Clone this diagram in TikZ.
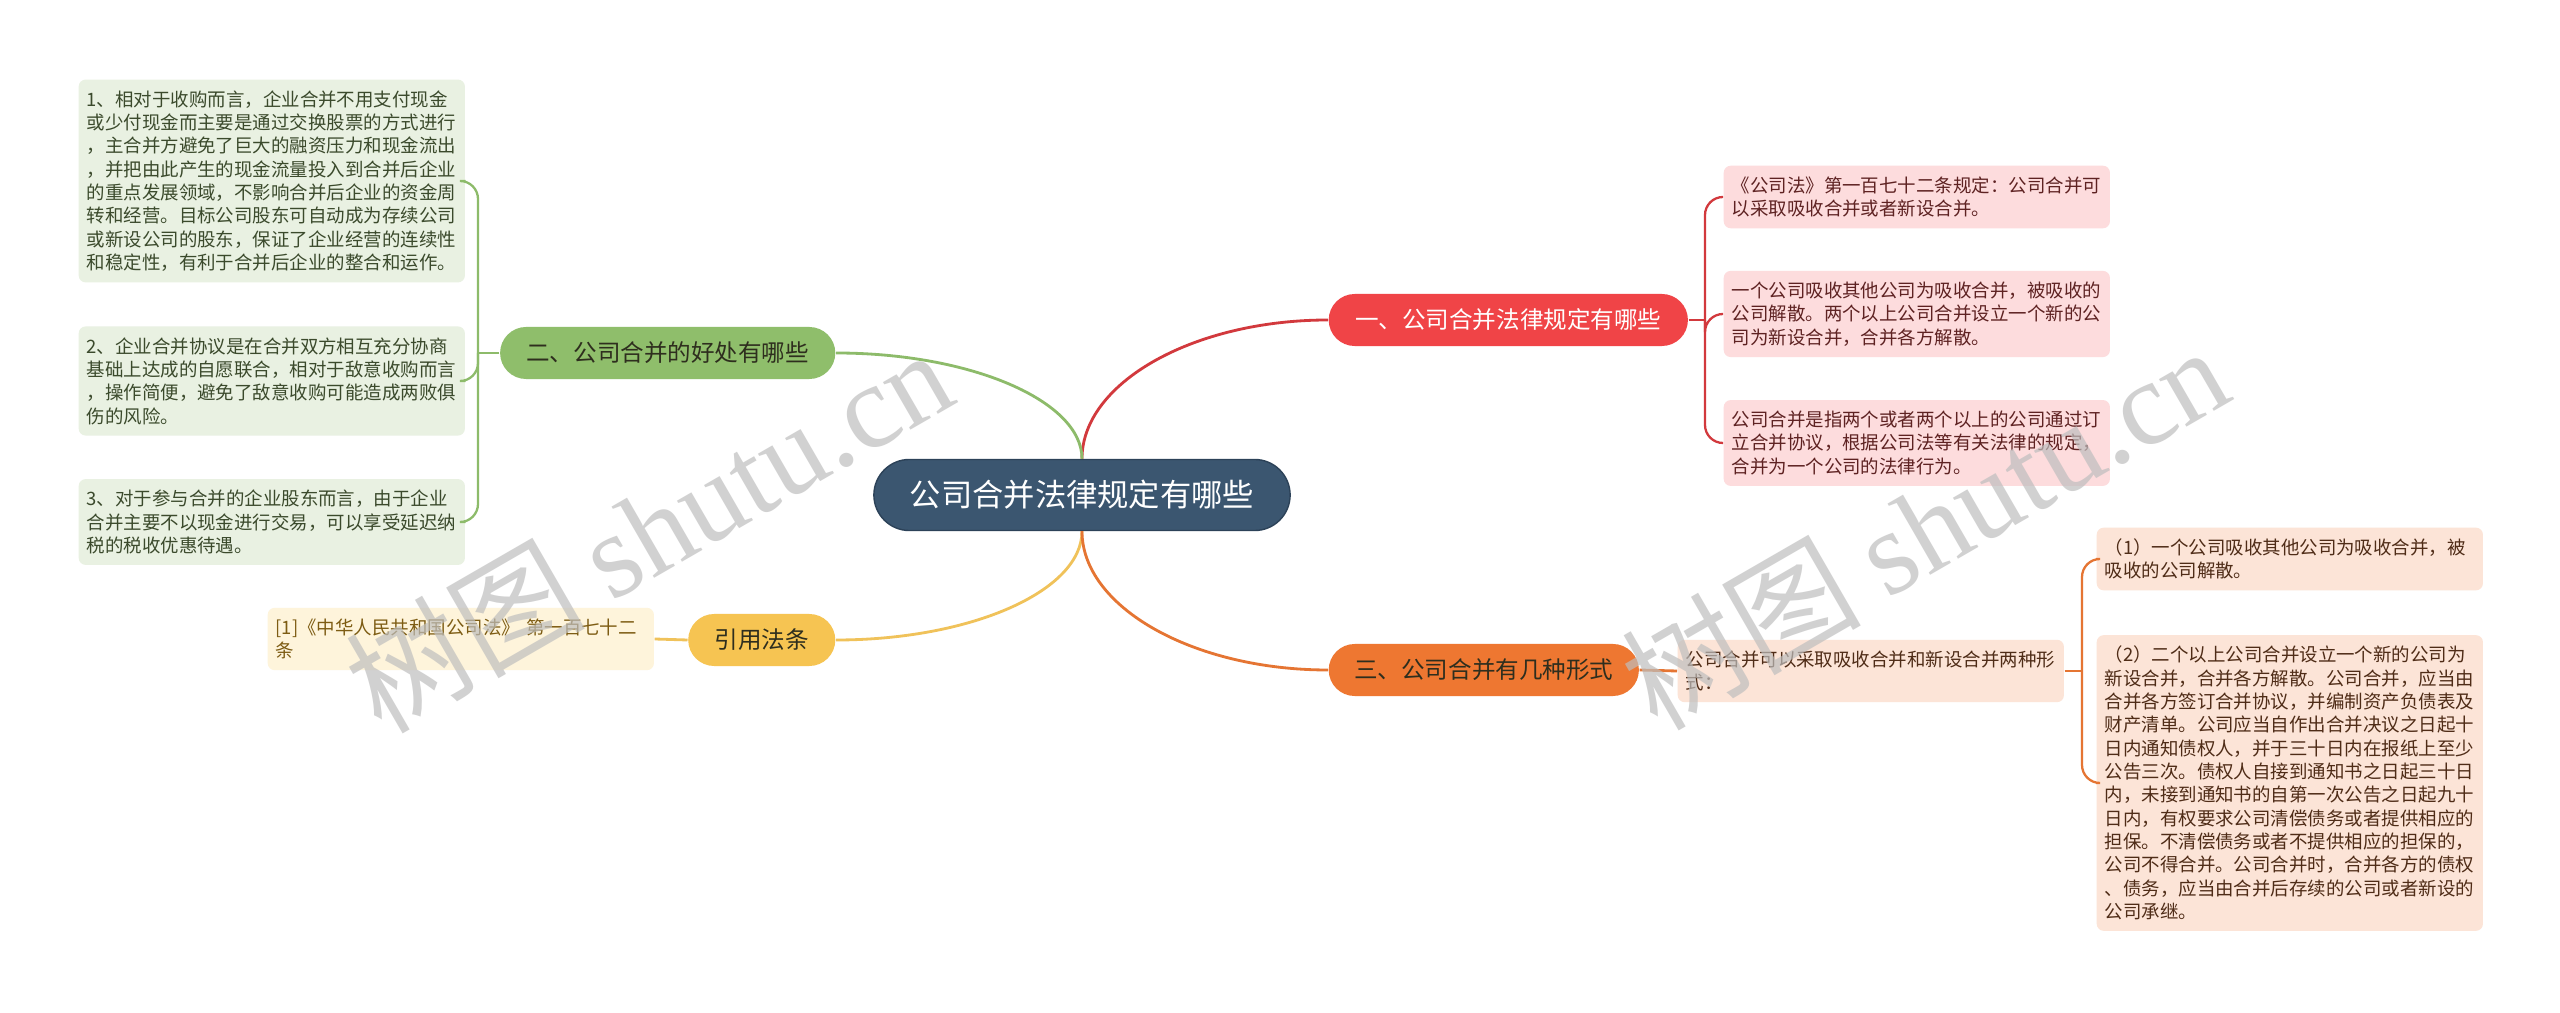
\documentclass[tikz,border=0pt]{standalone}
\usepackage{fontspec}
\setmainfont{Noto Sans CJK SC}
\newfontfamily\wmserif{Liberation Serif}
\usetikzlibrary{calc}

\definecolor{rootblue}{RGB}{59,86,112}
\definecolor{rootedge}{RGB}{44,66,88}
\definecolor{redfill}{RGB}{240,68,71}
\definecolor{greenfill}{RGB}{143,190,107}
\definecolor{yellowfill}{RGB}{246,196,82}
\definecolor{orangefill}{RGB}{238,119,49}
\definecolor{redline}{RGB}{210,57,61}
\definecolor{greenline}{RGB}{141,187,106}
\definecolor{yellowline}{RGB}{240,194,90}
\definecolor{orangeline}{RGB}{229,117,51}
\definecolor{redleaf}{RGB}{253,220,221}
\definecolor{greenleaf}{RGB}{233,241,226}
\definecolor{yellowleaf}{RGB}{254,244,219}
\definecolor{orangeleaf}{RGB}{252,228,215}
\definecolor{redtext}{RGB}{94,34,34}
\definecolor{greentext}{RGB}{59,74,44}
\definecolor{yellowtext}{RGB}{125,92,19}
\definecolor{orangetext}{RGB}{79,44,23}
\definecolor{darktext}{RGB}{46,46,30}
\definecolor{wmgray}{RGB}{190,190,190}

\begin{document}
\begin{tikzpicture}[
	x=0.01cm, y=-0.01cm,
	% Style for the central topic
	topic/.style={rectangle, rounded corners=0.355cm, draw=rootedge, fill=rootblue, text=white,
		minimum height=0.71cm, font=\fontsize{8.9pt}{10pt}\selectfont},
	% Style for the four main branches
	branch/.style={rectangle, rounded corners=0.26cm, minimum height=0.52cm, inner xsep=0pt,
		font=\fontsize{6.7pt}{8pt}\selectfont},
	% Style for the leaf notes
	note/.style={rectangle, rounded corners=0.07cm, anchor=west, align=left, text width=3.7cm,
		inner xsep=0.08cm, inner ysep=0.11cm, font=\fontsize{5.25pt}{6.63pt}\selectfont},
	% Connector styles
	link/.style={line width=0.8pt},
	bracket/.style={line width=0.65pt, rounded corners=0.18cm},
	% Watermark
	watermark/.style={rotate=30, text=wmgray, opacity=0.7, font=\fontsize{34pt}{36pt}\selectfont}
	]
	
	\fill[white] (0,0) rectangle (2560,1013);
	\useasboundingbox (0,0) rectangle (2560,1013);
	
	% 1. Central topic
	\node[topic, minimum width=4.16cm] (root) at (1082,495) {公司合并法律规定有哪些};
	
	% 2. Main branches
	\node[branch, fill=redfill, text=white, minimum width=3.59cm, anchor=west] (b1) at (1328,320) {一、公司合并法律规定有哪些};
	\node[branch, fill=orangefill, text=darktext, minimum width=3.10cm, anchor=west] (b3) at (1328,670) {三、公司合并有几种形式};
	\node[branch, fill=greenfill, text=darktext, minimum width=3.35cm, anchor=east] (b2) at (836,353) {二、公司合并的好处有哪些};
	\node[branch, fill=yellowfill, text=darktext, minimum width=1.47cm, anchor=east] (bref) at (836,640) {引用法条};
	
	% 3. Leaves of branch one
	\node[note, fill=redleaf, text=redtext] (l1a) at (1723,197) {《公司法》第一百七十二条规定：公司合并可\\以采取吸收合并或者新设合并。};
	\node[note, fill=redleaf, text=redtext] (l1b) at (1723,314) {一个公司吸收其他公司为吸收合并，被吸收的\\公司解散。两个以上公司合并设立一个新的公\\司为新设合并，合并各方解散。};
	\node[note, fill=redleaf, text=redtext] (l1c) at (1723,443) {公司合并是指两个或者两个以上的公司通过订\\立合并协议，根据公司法等有关法律的规定，\\合并为一个公司的法律行为。};
	
	% 4. Leaves of branch three
	\node[note, fill=orangeleaf, text=orangetext] (l3m) at (1677,671) {公司合并可以采取吸收合并和新设合并两种形\\式：};
	\node[note, fill=orangeleaf, text=orangetext] (l3a) at (2096,559) {（1）一个公司吸收其他公司为吸收合并，被\\吸收的公司解散。};
	\node[note, fill=orangeleaf, text=orangetext] (l3b) at (2096,783) {（2）二个以上公司合并设立一个新的公司为\\新设合并，合并各方解散。公司合并，应当由\\合并各方签订合并协议，并编制资产负债表及\\财产清单。公司应当自作出合并决议之日起十\\日内通知债权人，并于三十日内在报纸上至少\\公告三次。债权人自接到通知书之日起三十日\\内，未接到通知书的自第一次公告之日起九十\\日内，有权要求公司清偿债务或者提供相应的\\担保。不清偿债务或者不提供相应的担保的，\\公司不得合并。公司合并时，合并各方的债权\\、债务，应当由合并后存续的公司或者新设的\\公司承继。};
	
	% 5. Leaves of branch two and the reference
	\node[note, fill=greenleaf, text=greentext] (l2a) at (78,181) {1、相对于收购而言，企业合并不用支付现金\\或少付现金而主要是通过交换股票的方式进行\\，主合并方避免了巨大的融资压力和现金流出\\，并把由此产生的现金流量投入到合并后企业\\的重点发展领域，不影响合并后企业的资金周\\转和经营。目标公司股东可自动成为存续公司\\或新设公司的股东，保证了企业经营的连续性\\和稳定性，有利于合并后企业的整合和运作。};
	\node[note, fill=greenleaf, text=greentext] (l2b) at (78,381) {2、企业合并协议是在合并双方相互充分协商\\基础上达成的自愿联合，相对于敌意收购而言\\，操作简便，避免了敌意收购可能造成两败俱\\伤的风险。};
	\node[note, fill=greenleaf, text=greentext] (l2c) at (78,522) {3、对于参与合并的企业股东而言，由于企业\\合并主要不以现金进行交易，可以享受延迟纳\\税的税收优惠待遇。};
	\node[note, fill=yellowleaf, text=yellowtext] (lref) at (267,639) {[1]《中华人民共和国公司法》 第一百七十二\\条};
	
	% 6. Curves from the central topic
	\draw[link, redline] (root.north) .. controls (1082,383) and (1193,320) .. (b1.west);
	\draw[link, greenline] (root.north) .. controls (1082,401) and (971,353) .. (b2.east);
	\draw[link, yellowline] (root.south) .. controls (1082,591) and (971,640) .. (bref.east);
	\draw[link, orangeline] (root.south) .. controls (1082,607) and (1193,670) .. (b3.west);
	
	% 7. Brackets to the leaves
	\coordinate (j1) at (1705,320);
	\draw[link, redline] (b1.east) -- (j1);
	\draw[bracket, redline] (l1a.west) -| (j1) |- (l1c.west);
	\draw[bracket, redline] (j1) |- (l1b.west);
	
	\coordinate (j2) at (478,353);
	\draw[link, greenline] (b2.west) -- (j2);
	\draw[bracket, greenline] (l2a.east) -| (j2) |- (l2c.east);
	\draw[bracket, greenline] (j2) |- (l2b.east);
	
	\draw[link, yellowline] (lref.east) -- (bref.west);
	
	\draw[link, orangeline] (b3.east) -- (l3m.west);
	\coordinate (j3) at (2082,671);
	\draw[link, orangeline] (l3m.east) -- (j3);
	\draw[bracket, orangeline] (l3a.west) -| (j3) |- (l3b.west);
	
	% 8. Watermarks
	\node[watermark] (wm1) at (648,529) {树图 {\wmserif shutu.cn}};
	\node[watermark] (wm2) at (1924,526) {树图 {\wmserif shutu.cn}};
	
\end{tikzpicture}
\end{document}
